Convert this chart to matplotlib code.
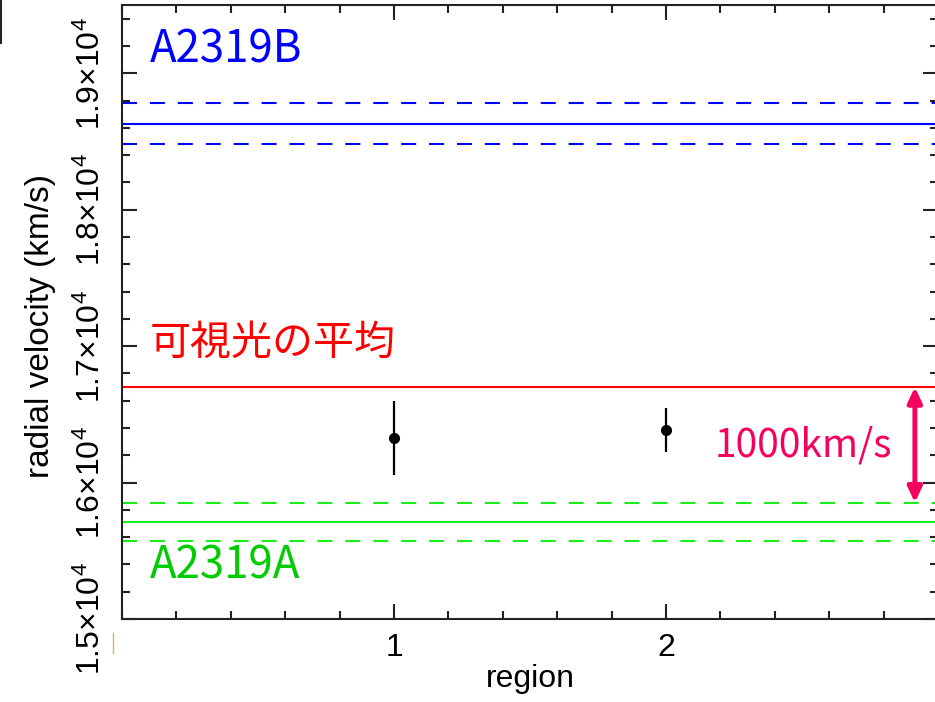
import numpy as np
import matplotlib
matplotlib.use("Agg")
import matplotlib.pyplot as plt
from matplotlib.lines import Line2D
from matplotlib.ticker import FixedLocator, MultipleLocator

plt.rcParams['font.family'] = ['Liberation Sans', 'DejaVu Sans']
plt.rcParams['mathtext.default'] = 'regular'
JP = ['Noto Sans CJK JP', 'DejaVu Sans']

# measured radial velocities per region (km/s)
regions = [1, 2]
vel = [16330, 16385]
err_lo = [275, 160]
err_hi = [265, 160]

# cluster mean velocities and their errors
v_B, dv_B = 18630, 150        # A2319B
v_A, dv_A = 15710, 140        # A2319A
v_opt = 16700                 # optical mean
arrow_span = 1000             # km/s

yticks = [15000, 16000, 17000, 18000, 19000]
ylabels = ['1.5×10$^4$', '1.6×10$^4$', '1.7×10$^4$', '1.8×10$^4$', '1.9×10$^4$']
xticks = [1, 2]

W, H = 935, 702
fig = plt.figure(figsize=(W/100, H/100), dpi=100)
ax = fig.add_axes([122/W, (H-619)/H, (938-122)/W, (619-5)/H])
ax.set_xlim(0, 3)
ax.set_ylim(15000, 19500)

blue = '#0000ff'
green = '#1aee1a'
dash = (0, (7.2, 6.2))
ax.axhline(v_B, color=blue, lw=1.5)
ax.axhline(v_B + dv_B, color=blue, lw=1.5, ls=dash)
ax.axhline(v_B - dv_B, color=blue, lw=1.5, ls=dash)
ax.axhline(v_A, color=green, lw=1.5)
ax.axhline(v_A + dv_A, color=green, lw=1.5, ls=dash)
ax.axhline(v_A - dv_A, color=green, lw=1.5, ls=dash)
ax.axhline(v_opt, color='#ff0000', lw=1.5)

ax.errorbar(regions, vel, yerr=[err_lo, err_hi], fmt='o', color='black',
            ms=7, elinewidth=1.6, capsize=0, zorder=5)

# 1000 km/s scale arrow
pink = '#f5005f'
ax.annotate('', xy=(2.915, v_opt - arrow_span), xytext=(2.915, v_opt),
            arrowprops=dict(arrowstyle='<|-|>,head_length=0.75,head_width=0.35',
                            color=pink, lw=3.5, shrinkA=0, shrinkB=15,
                            mutation_scale=12))
ax.text(2.83, 16191, '1000km/s', color=pink, fontsize=28, family=JP,
        ha='right', va='baseline')

ax.text(0.103, 19081, 'A2319B', color=blue, fontsize=31.5, family=JP,
        va='baseline')
ax.text(0.103, 15294, 'A2319A', color='#00cc00', fontsize=31.5, family=JP,
        va='baseline')
ax.text(0.103, 16935, '可視光の平均', color='#ff0000', fontsize=29.5,
        family=JP, va='baseline')

# axes styling
ax.yaxis.set_major_locator(FixedLocator(yticks))
ax.set_yticklabels(ylabels, rotation=90, va='center')
ax.yaxis.set_minor_locator(MultipleLocator(200))
ax.xaxis.set_major_locator(FixedLocator(xticks))
ax.xaxis.set_minor_locator(MultipleLocator(0.2))
ax.tick_params(which='both', direction='in', top=True, right=True,
               width=1.5, color='#222222')
ax.tick_params(which='major', length=11)
ax.tick_params(which='minor', length=6)
ax.tick_params(axis='y', labelsize=23, pad=11)
ax.tick_params(axis='x', labelsize=23, pad=10)
for s in ax.spines.values():
    s.set_linewidth(1.5)
    s.set_color('#222222')

ax.set_xlabel('region', fontsize=23)
ax.xaxis.set_label_coords(0.5, -0.073)
ax.set_ylabel('radial velocity (km/s)', fontsize=24)
ax.yaxis.set_label_coords(-0.081, 0.477)

# bits of neighbouring graphics at the edges
fig.add_artist(Line2D([1/W, 1/W], [1, 1 - 43/H], lw=1.5, color='#222222'))
fig.add_artist(Line2D([113/W, 113/W], [1 - 633/H, 1 - 653/H], lw=1,
                      color='#dcaa70'))

fig.savefig('out.png', dpi=100)
